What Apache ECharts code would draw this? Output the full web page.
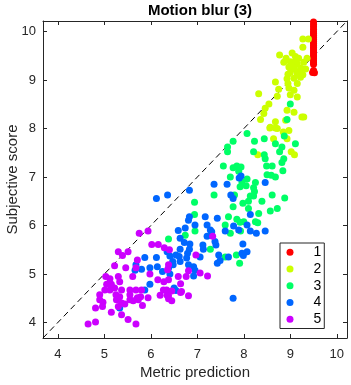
<!DOCTYPE html>
<html>
<head>
<meta charset="utf-8">
<script src="https://cdn.jsdelivr.net/npm/echarts@6/dist/echarts.min.js"></script>
<style>html,body{margin:0;padding:0;background:#fff}#c{width:351px;height:385px}</style>
</head>
<body>
<div id="c"></div>
<script>
const titleText = 'Motion blur (3)';
const xName = 'Metric prediction';
const yName = 'Subjective score';
const groupNames = ['1', '2', '3', '4', '5'];
const xTicks = [4, 5, 6, 7, 8, 9, 10];
const yTicks = [4, 5, 6, 7, 8, 9, 10];
const axisMin = 3.68, axisMax = 10.22;
const diag = [[3.68, 3.68], [10.22, 10.22]];

const g1 = [[9.5,10.24],[9.5,10.2],[9.5,10.15],[9.5,10.1],[9.5,10.05],[9.5,10.0],[9.5,9.96],[9.5,9.92],[9.5,9.88],[9.5,9.84],[9.5,9.8],[9.5,9.76],[9.5,9.72],[9.5,9.68],[9.5,9.64],[9.5,9.6],[9.5,9.56],[9.5,9.52],[9.5,9.48],[9.5,9.44],[9.5,9.4],[9.5,9.36],[9.5,9.33],[9.5,9.2],[9.5,9.18],[9.48,9.16],[9.52,9.15]];

const g2 = [[9.27,9.85],[9.39,9.85],[9.27,9.68],[8.77,9.52],[9.04,9.56],[9.11,9.49],[8.91,9.45],[9.18,9.45],[9.36,9.45],[8.86,9.37],[9.00,9.38],[9.15,9.34],[9.29,9.37],[8.97,9.27],[9.08,9.23],[9.22,9.25],[9.33,9.23],[9.00,9.16],[9.15,9.13],[9.27,9.11],[8.93,9.03],[9.08,9.04],[9.22,9.06],[8.68,8.96],[8.95,8.93],[9.15,8.93],[8.75,8.81],[8.97,8.84],[9.08,8.79],[8.32,8.72],[8.72,8.67],[9.00,8.70],[9.15,8.65],[8.54,8.51],[8.46,8.42],[8.93,8.38],[9.08,8.34],[8.43,8.31],[8.36,8.19],[9.29,8.24],[9.25,8.24],[8.68,8.14],[8.90,8.17],[8.57,8.03],[8.72,8.00],[8.97,7.96],[8.56,8.01],[8.68,8.01],[8.85,7.93],[8.64,7.79],[8.93,7.79],[8.30,7.46],[9.02,7.52],[9.09,7.46],[9.05,9.30],[9.20,9.18],[8.95,9.12],[9.12,9.40]];

const g3 = [[8.07,7.90],[8.23,7.74],[8.44,7.79],[7.77,7.74],[7.65,7.62],[7.65,7.52],[8.68,7.69],[8.87,7.85],[8.82,7.62],[9.11,7.69],[8.21,7.52],[8.44,7.46],[8.77,7.52],[8.46,7.38],[8.86,7.38],[8.82,7.30],[7.56,7.23],[7.77,7.19],[7.85,7.23],[7.94,7.21],[8.49,7.23],[8.61,7.23],[7.89,7.12],[8.84,7.13],[8.50,7.05],[8.59,7.04],[8.68,7.00],[7.71,7.00],[8.07,6.96],[8.25,6.89],[7.96,6.90],[7.92,6.80],[8.05,6.82],[8.21,6.78],[8.23,6.70],[8.21,6.61],[7.36,6.63],[7.80,6.63],[8.14,6.61],[8.61,6.63],[8.88,6.57],[8.10,6.50],[8.39,6.50],[6.94,6.48],[7.98,6.46],[7.77,6.39],[8.10,6.35],[8.72,6.35],[8.57,6.30],[8.32,6.25],[6.94,6.23],[7.67,6.18],[7.85,6.13],[8.00,6.08],[8.25,6.08],[7.92,6.07],[9.00,8.51],[8.93,8.19],[6.38,5.72],[6.95,5.89],[6.74,5.80],[7.60,6.01],[7.71,5.84],[7.93,5.89],[8.30,6.06],[7.28,5.51],[7.60,5.35],[7.84,5.39],[7.91,5.22]];

const g4 = [[6.12,6.56],[6.36,6.63],[6.83,6.73],[7.36,6.85],[7.64,6.85],[7.90,6.98],[7.94,7.02],[8.46,6.89],[7.72,6.63],[7.77,6.56],[6.83,6.18],[6.81,6.11],[7.17,6.18],[7.43,6.15],[8.14,6.23],[6.59,5.90],[6.74,5.95],[6.95,6.01],[7.21,6.01],[7.28,5.91],[7.60,5.89],[7.78,5.99],[7.89,5.91],[8.07,6.01],[8.14,5.89],[8.27,5.84],[8.46,5.89],[6.63,5.74],[6.72,5.65],[6.84,5.62],[6.83,5.51],[6.63,5.51],[6.54,5.39],[6.61,5.36],[6.47,5.26],[6.48,5.19],[6.25,5.05],[6.41,5.00],[6.77,5.33],[6.81,5.19],[6.92,5.15],[6.95,5.08],[6.92,4.96],[7.12,5.60],[7.13,5.51],[7.06,5.35],[6.79,5.43],[6.63,5.26],[7.46,5.39],[7.49,5.28],[7.43,5.22],[7.67,5.35],[7.96,5.43],[8.07,5.46],[7.98,5.62],[7.21,5.78],[7.31,5.87],[7.38,5.67],[7.40,5.60],[7.99,5.38],[7.77,4.50],[6.50,4.71],[6.54,4.66],[5.87,5.34],[6.12,5.34],[5.98,5.13],[6.14,5.15],[5.66,5.08],[5.80,5.10],[5.68,5.19],[6.38,5.12],[5.98,4.79],[5.87,4.67],[5.33,4.30],[6.35,5.46],[6.41,5.37]];

const g5 = [[5.75,5.84],[5.94,5.89],[6.02,5.61],[6.16,5.61],[6.29,5.54],[6.40,5.50],[5.30,5.46],[5.39,5.38],[5.51,5.46],[5.71,5.29],[5.46,5.13],[5.22,5.17],[5.68,5.13],[5.61,4.95],[5.98,5.00],[6.15,4.88],[5.03,4.95],[5.12,4.90],[5.15,4.79],[5.30,4.95],[5.05,4.79],[5.33,4.84],[5.01,4.67],[5.12,4.67],[5.22,4.71],[5.37,4.67],[5.55,4.67],[5.68,4.67],[5.80,4.67],[4.90,4.57],[5.25,4.57],[5.33,4.53],[5.55,4.57],[5.71,4.51],[5.78,4.53],[5.94,4.51],[4.90,4.47],[4.97,4.42],[5.26,4.47],[5.37,4.40],[5.55,4.47],[5.62,4.45],[5.73,4.47],[6.20,4.56],[6.35,4.56],[6.38,4.49],[4.81,4.30],[4.96,4.33],[5.30,4.33],[5.44,4.38],[5.82,4.35],[5.15,4.21],[5.37,4.16],[4.65,3.97],[4.81,4.01],[5.51,4.06],[5.68,3.97],[7.33,5.78],[6.97,5.39],[6.38,5.19],[6.36,5.09],[6.81,5.07],[6.76,4.95],[7.06,5.02],[7.22,4.96],[6.28,4.84],[6.34,4.67],[6.64,4.80],[6.64,4.62],[6.38,4.55],[6.45,4.45],[6.81,4.55],[6.38,4.88],[6.27,4.67],[6.45,4.65],[6.66,4.64],[6.59,4.95]];

const groups = [g1, g2, g3, g4, g5];
const colors = ['#FF0000', '#CCFF00', '#00FF66', '#0066FF', '#CC00FF'];

const FONT = '"Liberation Sans", Arial, Helvetica, sans-serif';
const AX = '#262626';

const chart = echarts.init(document.getElementById('c'), null, {renderer: 'canvas'});

const baseAxis = {
  type: 'value', min: axisMin, max: axisMax, splitLine: {show: false},
  axisLine: {show: true, onZero: false, lineStyle: {color: AX, width: 1}},
  axisTick: {show: true, inside: true, length: 4, lineStyle: {color: AX}},
};

const series = groups.map((g, i) => ({
  name: groupNames[i], type: 'scatter', data: g, symbol: 'circle', symbolSize: 7,
  itemStyle: {color: colors[i], opacity: 1}, z: 3, emphasis: {disabled: true}
}));
series.unshift({
  type: 'line', data: diag, symbol: 'none', silent: true, z: 2,
  lineStyle: {color: '#000', width: 1, type: [6, 4]}
});

chart.setOption({
  animation: false,
  title: {text: titleText, left: 195, top: -2, textAlign: 'center',
    textStyle: {fontFamily: FONT, fontSize: 15, fontWeight: 'bold', color: '#000'}},
  grid: {left: 43, right: 4, top: 21, bottom: 47, containLabel: false, outerBoundsMode: 'none'},
  legend: {
    data: groupNames, orient: 'vertical', left: 280, top: 243, icon: 'circle',
    itemWidth: 37, itemHeight: 7, itemGap: 0, padding: [1, 3, 1, 6.5],
    borderColor: AX, borderWidth: 1, backgroundColor: '#fff',
    textStyle: {fontFamily: FONT, fontSize: 14, color: '#000', lineHeight: 16.7}
  },
  xAxis: [
    Object.assign({}, baseAxis, {
      position: 'bottom', name: xName, nameLocation: 'middle', nameGap: 27, nameMoveOverlap: false,
      nameTextStyle: {fontFamily: FONT, fontSize: 15, color: AX},
      axisTick: Object.assign({}, baseAxis.axisTick, {customValues: xTicks}),
      axisLabel: {customValues: xTicks, margin: 10, fontFamily: FONT, fontSize: 13, color: AX}
    }),
    Object.assign({}, baseAxis, {
      position: 'top',
      axisTick: Object.assign({}, baseAxis.axisTick, {customValues: xTicks}),
      axisLabel: {show: false}
    })
  ],
  yAxis: [
    Object.assign({}, baseAxis, {
      position: 'left', name: yName, nameLocation: 'middle', nameGap: 23, nameMoveOverlap: false,
      nameTextStyle: {fontFamily: FONT, fontSize: 15, color: AX},
      axisTick: Object.assign({}, baseAxis.axisTick, {customValues: yTicks}),
      axisLabel: {customValues: yTicks, margin: 7, fontFamily: FONT, fontSize: 13, color: AX}
    }),
    Object.assign({}, baseAxis, {
      position: 'right',
      axisTick: Object.assign({}, baseAxis.axisTick, {customValues: yTicks}),
      axisLabel: {show: false}
    })
  ],
  series: series
});
</script>
</body>
</html>
